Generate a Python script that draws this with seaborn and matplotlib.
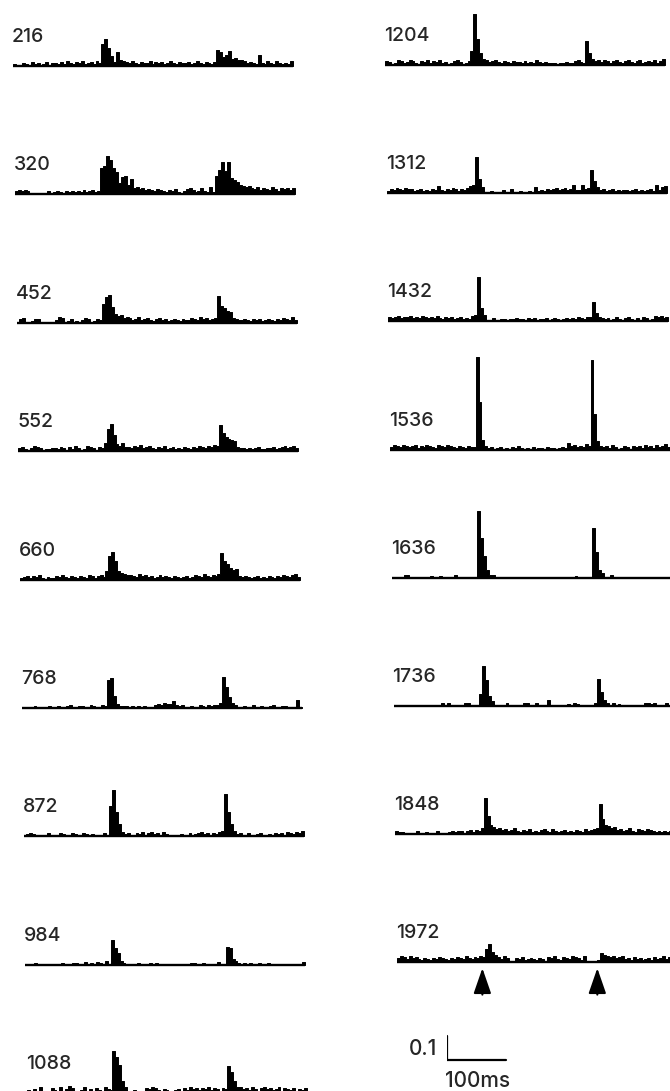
import numpy as np
import pandas as pd
import matplotlib
matplotlib.use('Agg')
import matplotlib.pyplot as plt
import seaborn as sns

# spike counts per 5 ms bin (N_SWEEPS sweeps each)
N_SWEEPS = 240
BIN_MS = 5
WINDOW_MS = 475
STIM_MS = [145, 340]

c216 = [2,1,1,3,2,1,4,2,3,1, 2,4,1,3,3,2,4,2,5,3, 2,4,3,5,2,3,4,2,5,3,
        22,27,18,10,4,14,6,5,
        4,3,5,3,2,4,3,3,5,2, 4,3,4,2,3,5,3,2,4,3, 3,4,2,3,5,3,2,4,3,2,
        4,16,14,9,11,15,7,8,6,6,5,
        3,4,3,2,11,3,2,5,3,2,5,3,2,3,2,5]
c320 = [3,4,3,4,3,1,1,1,1,1, 1,3,1,2,3,2,1,3,2,3, 2,3,2,4,2,3,4,2,3,
        26,28,38,34,26,22,11,17,18,9,15,6,7,5,6,4,
        5,4,3,5,4,3,2,4,3,5,2,1,3,5,6,4,2,3,6,3,2,7,2,
        18,24,32,23,32,16,14,12,9,8,7,8,
        6,5,7,4,6,5,4,7,5,3,6,5,6,4,6]
c452 = [1,4,5,1,1,2,4,4,1,1, 1,1,1,3,6,5,1,2,4,1, 2,1,3,5,4,1,2,4,3,
        19,26,28,16,9,7,8,5,6,
        5,3,4,6,3,4,5,3,2,4, 5,3,4,2,3,4,3,2,4,3, 3,5,4,3,6,4,5,3,4,5,
        27,17,15,12,11,5,4,3,
        3,4,3,2,4,3,4,2,3,4,3,2,4,3,5,4,3,6,3]
c552 = [3,4,2,1,3,5,4,3,1,2, 2,3,3,2,4,3,1,4,2,5, 3,1,2,5,4,3,1,4,3,
        8,22,27,16,7,5,8,4,
        4,3,5,4,6,3,4,5,3,2, 4,3,5,2,3,4,2,3,2,4, 3,2,4,3,5,4,3,5,4,6,5,
        26,18,14,12,11,10,4,
        3,3,2,3,2,3,4,2,2,3,3,4,2,3,4,5,3,4,5,3]
c660 = [2,3,4,2,4,3,5,2,1,3, 2,2,4,3,5,3,2,4,3,2, 4,3,2,5,4,2,4,5,3,
        9,24,28,19,9,7,6,5,
        5,4,3,6,4,5,3,4,2,3, 5,3,4,3,2,4,3,2,3,4, 2,3,5,4,3,6,4,3,5,4,6,
        27,19,16,12,10,11,4,
        3,4,3,2,3,4,2,3,2,4,3,2,4,3,5,4,3,5,6,3]
c768 = [1,1,0,0,2,0,1,0,0,2, 1,0,2,1,0,2,3,1,0,2, 2,0,1,3,2,0,1,3,2,
        28,30,12,4,2,2,
        2,1,2,0,2,1,2,1,0,1, 3,4,3,5,4,4,7,3,2,3, 1,0,2,1,0,3,2,1,3,2, 3,3,5,
        31,21,11,5,3,
        1,0,2,1,0,3,0,1,2,0, 1,2,3,0,1,2,2,0,1,1,8,1]
c872 = [0,2,3,2,0,0,0,0,3,1, 0,0,3,2,0,1,3,2,1,0, 3,2,0,2,0,1,0,3,0,
        30,46,24,12,4,
        2,3,1,0,3,2,4,1,3,4, 2,3,1,4,2,0,0,1,0,2, 0,0,3,1,2,3,4,2,3,1, 3,2,4,5,
        42,24,12,5,
        2,3,0,1,3,0,0,2,3,0, 1,2,0,3,2,3,1,4,3,2, 4,3,5]
c984 = [0,0,0,2,1,0,0,0,0,0, 0,0,2,1,0,0,2,2,0,0, 3,0,2,0,3,2,0,4,0,
        25,17,12,4,2,
        0,0,0,0,2,0,0,0,2,0, 2,0,0,0,0,0,0,0,0,0, 0,0,2,2,0,0,2,0,0,0, 0,3,0,0,
        18,17,6,4,2,
        0,2,0,2,0,0,2,0,0,2,0,0,0,0,0,0,0,0,0,0,0,3]
c1088 = [3,0,4,2,6,0,0,2,5,3, 0,6,2,4,7,5,2,0,3,6, 2,4,0,5,3,2,6,4,3,
         42,36,28,12,6,
         2,0,3,0,0,2,5,4,6,5, 3,2,4,3,2,0,3,4,2,5, 3,6,4,5,3,5,4,6,3,5, 4,2,5,4,
         27,21,12,6,
         6,4,5,3,6,4,2,5,6,4, 5,3,4,6,2,5,4,3,5,2, 4,3,5]

c1204 = [4,3,1,2,5,4,2,3,5,4, 2,1,4,3,5,2,4,3,5,2, 3,1,2,4,5,3,1,2,4,
         14,51,26,12,6,
         5,3,4,5,3,2,4,3,2,4, 3,3,2,4,2,3,2,5,3,2, 3,2,2,2,1,2,2,3,2,2, 4,5,3,2,
         24,12,6,4,
         5,3,5,4,2,4,5,3,2,4, 5,3,2,4,5,2,3,4,3,5, 2,4,6]
c1312 = [2,4,3,5,4,3,5,4,4,2, 3,4,2,3,2,4,3,7,3,2, 4,3,5,4,2,4,3,5,7,
         8,36,14,6,
         1,1,2,1,1,1,3,1,0,4, 1,1,2,1,1,2,1,6,2,3, 2,4,3,4,5,3,4,5,3,4, 8,3,3,8,4,
         5,23,12,6,
         3,4,2,3,4,2,3,2,3,3, 2,3,4,2,3,2,3,4,2,8, 3,6,7]
c1432 = [4,3,4,5,3,4,4,5,3,4, 3,5,4,3,4,3,5,3,2,4, 3,4,2,3,4,2,3,2,5,
         6,44,13,6,
         1,1,3,1,1,2,2,1,2,2, 3,2,2,1,3,2,3,1,2,2, 3,1,2,3,2,1,2,3,2,3, 2,4,3,2,4,
         4,19,8,4,
         3,2,3,1,2,4,2,1,3,4, 2,1,3,1,4,3,1,2,5,4, 5,3,4]
c1536 = [3,5,4,3,5,4,3,4,5,2, 4,3,5,4,3,2,5,4,3,5, 4,3,2,4,3,2,4,3,3,
         93,48,10,
         4,2,3,1,2,3,1,2,1,3, 2,4,2,1,2,1,3,1,2,2, 1,3,2,2,1,2,3,2,7,4, 5,3,4,3,6,4,
         90,36,9,4,
         3,4,2,5,3,1,2,4,3,1, 4,3,4,2,5,3,4,2,5,3, 4,6,3]
c1636 = [0,0,0,0,3,3,0,0,0,0, 0,0,0,2,0,0,2,0,0,0, 0,3,0,0,1,1,1,1,1,
         67,40,22,8,3,3,
         0,1,1,1,0,0,0,0,0,0, 0,0,0,0,0,0,0,0,0,0, 0,0,0,0,0,0,0,2,0,0, 0,0,0,
         50,26,8,5,
         0,0,3,0,0,0,0,0,0,0, 0,0,0,0,0,0,0,0,0,0, 0,0,0]
c1736 = [0,0,0,0,0,0,0,0,0,0, 0,0,0,0,0,0,3,0,3,0, 0,0,0,0,3,3,0,0,0,
         12,40,26,10,5,
         0,0,0,0,3,0,0,0,0,0, 3,3,0,0,3,0,0,0,6,0, 0,0,0,0,0,2,0,3,2,0, 0,0,0,0,
         3,27,14,6,
         3,0,3,0,2,0,0,0,0,0, 0,0,0,3,3,2,3,0,0,0, 3,0,0]
c1848 = [3,2,2,1,1,1,1,3,1,1, 2,1,1,1,3,1,1,1,2,3, 2,3,3,1,3,4,2,4,3,
         6,36,18,9,7,5,6,
         4,5,3,4,6,3,2,4,3,5, 2,3,2,4,5,3,2,5,3,2, 3,4,2,3,2,4,3,2,5,3, 4,5,
         6,30,15,9,8,6,7,
         4,5,3,4,6,3,2,5,4,3, 5,4,3,2,3,2,3,2,3,3]
c1972 = [4,6,5,3,6,4,5,3,2,4, 3,2,4,3,5,4,3,2,4,3, 5,4,3,6,4,3,5,4,6,
         5,13,18,10,7,
         5,3,6,4,1,1,4,3,5,2, 3,4,3,2,4,3,1,5,4,6, 3,2,5,4,3,6,5,4,2,6, 1,1,1,1,
         2,9,7,6,5,6,
         4,5,6,3,4,2,5,3,4,2, 3,4,2,5,3,4,6,3,5,4,3]

left_labels = ['216', '320', '452', '552', '660', '768', '872', '984', '1088']
left_counts = [c216, c320, c452, c552, c660, c768, c872, c984, c1088]
right_labels = ['1204', '1312', '1432', '1536', '1636', '1736', '1848', '1972']
right_counts = [c1204, c1312, c1432, c1536, c1636, c1736, c1848, c1972]

SCALE_P = 0.1
SCALE_MS = 100

sns.set_style('white')
plt.rcParams['font.family'] = ['Inter', 'DejaVu Sans']

W, H = 670, 1091
PW = 280          # panel width in px
fig = plt.figure(figsize=(W / 100, H / 100), dpi=100)


def px_axes(x0, base, up=100, dn=4):
    ax = fig.add_axes([x0 / W, (H - base - dn) / H, PW / W, (up + dn) / H])
    ax.set_xlim(0, WINDOW_MS)
    ax.set_ylim(-dn / N_SWEEPS, up / N_SWEEPS)
    ax.axis('off')
    return ax


def psth(x0, base, label, counts):
    ax = px_axes(x0, base)
    n = len(counts)
    df = pd.DataFrame({'t': np.arange(n) * BIN_MS + BIN_MS / 2,
                       'p': np.array(counts, dtype=float) / N_SWEEPS})
    sns.histplot(data=df, x='t', weights='p', bins=n, binrange=(0, n * BIN_MS),
                 element='step', fill=True, color='black', alpha=1,
                 linewidth=0.7, ax=ax)
    ax.plot([0, WINDOW_MS], [0, 0], color='black', lw=1.7,
            solid_capstyle='butt')
    ax.set_xlim(0, WINDOW_MS)
    ax.set_ylim(-4 / N_SWEEPS, 100 / N_SWEEPS)
    ax.axis('off')
    fig.text((x0 - 1) / W, 1 - (base - 24) / H, label, fontsize=14,
             fontweight='medium', ha='left', va='baseline')
    return ax


for k, (lab, c) in enumerate(zip(left_labels, left_counts)):
    psth(13 + 1.75 * k, 66 + 128.4 * k, lab, c)

for k, (lab, c) in enumerate(zip(right_labels, right_counts)):
    ax = psth(385 + 1.7 * k, 65 + 128.2 * k, lab, c)

# stimulus arrows under the last right panel
for t in STIM_MS:
    ax.annotate('', xy=(t, -3 / N_SWEEPS), xytext=(t, -35 / N_SWEEPS),
                arrowprops=dict(arrowstyle='-|>,head_width=0.45,head_length=1.3',
                                color='black', lw=1.5, mutation_scale=12),
                annotation_clip=False)

# scale bar
sb = px_axes(447, 1060, up=30, dn=4)
sb.plot([0, 0, SCALE_MS], [SCALE_P, 0, 0], color='black', lw=1.6,
        solid_joinstyle='miter')
fig.text(437 / W, 1 - 1055 / H, '0.1', fontsize=15, fontweight='medium',
         ha='right', va='baseline')
fig.text(445 / W, 1 - 1087 / H, '100ms', fontsize=15, fontweight='medium',
         ha='left', va='baseline')

fig.savefig('out.png', dpi=100, facecolor='white')
